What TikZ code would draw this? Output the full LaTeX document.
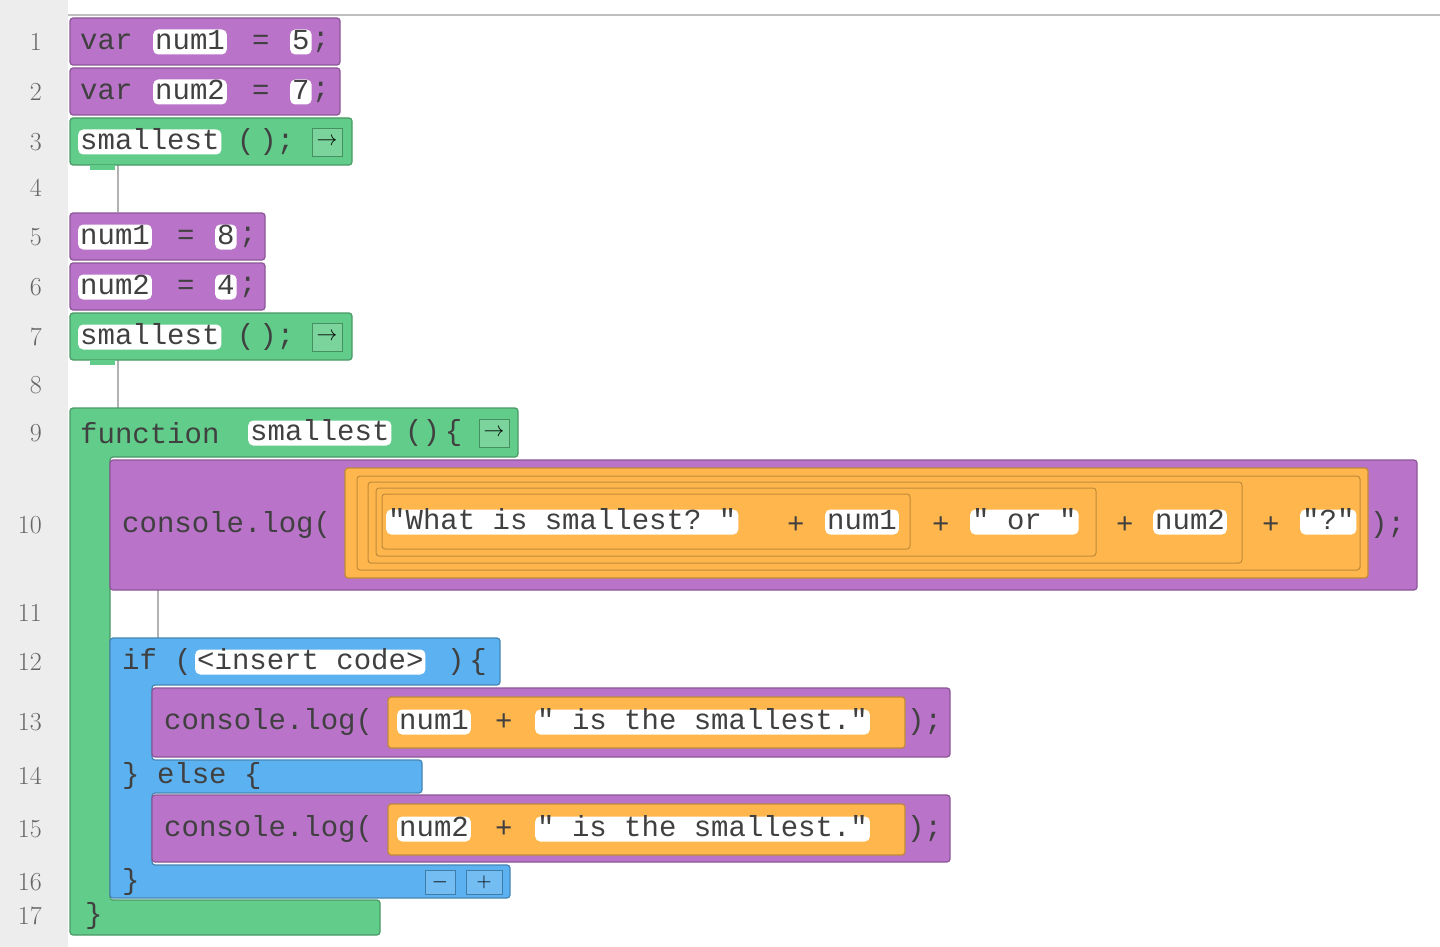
\documentclass[tikz,border=0pt]{standalone}
\usepackage{fontspec}
\setmonofont{Liberation Mono}
\begin{document}
\begin{tikzpicture}[x=1pt,y=-1pt,
  blk/.style={rounded corners=3pt,draw=#1!75!black,line width=1.2pt,fill=#1},
  tx/.style={anchor=west,inner sep=0pt,font=\ttfamily\fontsize{29}{29}\selectfont,text=black!75},
  fld/.style={tx,fill=white,rounded corners=5pt,inner xsep=2pt,inner ysep=1pt,text height=19pt,text depth=4pt},
  ln/.style={anchor=east,inner sep=0pt,font=\fontsize{26}{26}\selectfont,text=black!60},
  btn/.style={draw=#1!70!black,fill=#1!85!white,minimum width=30pt,minimum height=28pt,inner sep=0pt,font=\fontsize{22}{22}\selectfont}]
\definecolor{pur}{RGB}{185,115,200}
\definecolor{grn}{RGB}{98,204,138}
\definecolor{org}{RGB}{255,183,77}
\definecolor{blu}{RGB}{92,177,240}
\useasboundingbox (0,0) rectangle (1440,947);
\fill[black!7] (0,0) rectangle (68,947);
\fill[white] (68,16) rectangle (1440,947);
\draw[black!25,line width=2pt] (68,15) -- (1440,15);
% line numbers
\foreach \n/\y in {1/42,2/92,3/142,4/188,5/237,6/287,7/337,8/385,9/433,10/525,11/613,12/662,13/722,14/776,15/829,16/882,17/916}
  \node[ln] (ln\n) at (42,\y) {\n};
% gap connectors
\draw[black!30,line width=1.5pt,fill=white] (118,165) -- (118,212);
\draw[black!30,line width=1.5pt] (118,360) -- (118,408);
\draw[black!30,line width=1.5pt] (158,590) -- (158,638);
% line 1-2
\draw[blk=pur] (70,18) rectangle (340,65);
\node[tx] (v1) at (80,42) {var};
\node[fld] (f1) at (153,42) {num1};
\node[tx] (e1) at (252,42) {=};
\node[fld] (c1) at (290,42) {5};
\node[tx] (s1) at (312,42) {;};
\draw[blk=pur] (70,68) rectangle (340,115);
\node[tx] (v2) at (80,92) {var};
\node[fld] (f2) at (153,92) {num2};
\node[tx] (e2) at (252,92) {=};
\node[fld] (c2) at (290,92) {7};
\node[tx] (s2) at (312,92) {;};
% line 3
\draw[blk=grn] (70,118) rectangle (352,165);
\fill[grn] (90,165) rectangle (115,170);
\node[fld] (sm1) at (78,142) {smallest};
\node[tx] (p1) at (237,142) {(\,);};
\node[btn=grn] (b1) at (327,142) {$\rightarrow$};
% line 5-6
\draw[blk=pur] (70,213) rectangle (265,260);
\node[fld] (f5) at (78,237) {num1};
\node[tx] (e5) at (177,237) {=};
\node[fld] (c5) at (215,237) {8};
\node[tx] (s5) at (239,237) {;};
\draw[blk=pur] (70,263) rectangle (265,310);
\node[fld] (f6) at (78,287) {num2};
\node[tx] (e6) at (177,287) {=};
\node[fld] (c6) at (215,287) {4};
\node[tx] (s6) at (239,287) {;};
% line 7
\draw[blk=grn] (70,313) rectangle (352,360);
\fill[grn] (90,360) rectangle (115,365);
\node[fld] (sm2) at (78,337) {smallest};
\node[tx] (p2) at (237,337) {(\,);};
\node[btn=grn] (b2) at (327,337) {$\rightarrow$};
% function
\draw[blk=grn] (70,408) -- (518,408) -- (518,457) -- (110,457) -- (110,900) -- (380,900) -- (380,935) -- (70,935) -- cycle;
\node[tx] (fn) at (80,433) {function};
\node[fld] (sm3) at (248,433) {smallest};
\node[tx] (fp) at (405,433) {()\,\{};
\node[btn=grn] (b3) at (494,433) {$\rightarrow$};
\node[tx] (fe) at (85,916) {\}};
% line 10
\draw[blk=pur] (110,460) rectangle (1417,590);
\node[tx] (cl10) at (122,525) {console.log(};
\draw[blk=org] (345,468) rectangle (1368,578);
\draw[draw=org!75!black,line width=1pt,rounded corners=3pt] (357,476) rectangle (1360,570);
\draw[draw=org!75!black,line width=1pt,rounded corners=3pt] (368,482) rectangle (1242,563);
\draw[draw=org!75!black,line width=1pt,rounded corners=3pt] (376,488) rectangle (1096,556);
\draw[draw=org!75!black,line width=1pt,rounded corners=3pt] (382,494) rectangle (910,549);
\node[fld] (q1) at (386,522) {"What is smallest? "};
\node[tx] (pl1) at (787,525) {+};
\node[fld] (n1) at (825,522) {num1};
\node[tx] (pl2) at (932,525) {+};
\node[fld] (q2) at (970,522) {" or "};
\node[tx] (pl3) at (1116,525) {+};
\node[fld] (n2) at (1153,522) {num2};
\node[tx] (pl4) at (1262,525) {+};
\node[fld] (q3) at (1300,522) {"?"};
\node[tx] (cp10) at (1370,525) {);};
% if block
\draw[blk=blu] (110,638) -- (500,638) -- (500,685) -- (152,685) -- (152,760) -- (422,760) -- (422,793) -- (152,793) -- (152,865) -- (510,865) -- (510,898) -- (110,898) -- cycle;
\node[tx] (if) at (122,662) {if (};
\node[fld] (ic) at (195,662) {<insert code>};
\node[tx] (ib) at (447,662) {)\,\{};
\node[tx] (el) at (122,776) {\} else \{};
\node[tx] (ie) at (122,882) {\}};
\node[btn=blu,minimum height=24pt] (bm) at (440,882) {$-$};
\node[btn=blu,minimum height=24pt,minimum width=36pt] (bp) at (484,882) {$+$};
% line 13
\draw[blk=pur] (152,688) rectangle (950,757);
\node[tx] (cl13) at (164,722) {console.log(};
\draw[blk=org] (388,697) rectangle (905,748);
\node[fld] (n13) at (397,722) {num1};
\node[tx] (p13) at (495,722) {+};
\node[fld] (q13) at (535,722) {" is the smallest."};
\node[tx] (c13) at (907,722) {);};
% line 15
\draw[blk=pur] (152,795) rectangle (950,862);
\node[tx] (cl15) at (164,829) {console.log(};
\draw[blk=org] (388,804) rectangle (905,855);
\node[fld] (n15) at (397,829) {num2};
\node[tx] (p15) at (495,829) {+};
\node[fld] (q15) at (535,829) {" is the smallest."};
\node[tx] (c15) at (907,829) {);};
\end{tikzpicture}
\end{document}
